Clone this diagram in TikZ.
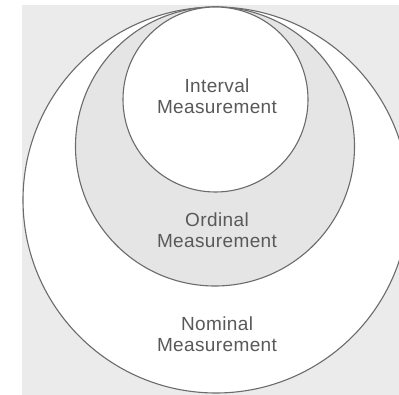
\documentclass[tikz,border=0pt]{standalone}
\usepackage{fontspec}
\setmainfont{Liberation Sans}
\begin{document}
\begin{tikzpicture}[x=1pt,y=-1pt,
  ring/.style={draw=black!58,line width=1.1pt},
  label/.style={align=center,text=black!65,inner sep=0pt,anchor=base,
    font=\fontsize{19}{21}\selectfont\addfontfeatures{LetterSpace=2}},
]
\useasboundingbox (0,0) rectangle (399,395);
% scanned page background
\fill[black!8] (22,5) rectangle (399,395);
% nested circles, all touching at the top
\path[ring,fill=white] (216,200) circle (193) coordinate (nomc);
\path[ring,fill=black!10] (215,146.5) circle (139.5) coordinate (ordc);
\path[ring,fill=white] (215.5,99.5) circle (92.5) coordinate (intc);
% labels (anchor = baseline of the second line)
\node[label] (interval) at (217,114) {Interval\\Measurement};
\node[label] (ordinal) at (217,248) {Ordinal\\Measurement};
\node[label] (nominal) at (217,352) {Nominal\\Measurement};
\end{tikzpicture}
\end{document}
